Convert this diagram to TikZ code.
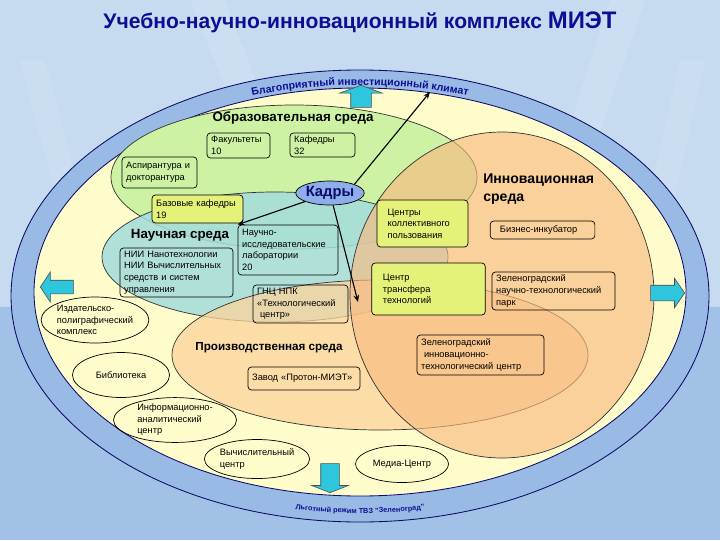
\documentclass[tikz,border=0pt]{standalone}
\usepackage{fontspec}
\setmainfont{Liberation Sans}
\usetikzlibrary{shapes.geometric,shapes.arrows,arrows.meta,decorations.text}

\definecolor{bgtop}{HTML}{C6DAF0}
\definecolor{bgbot}{HTML}{A2C1E7}
\definecolor{ringblue}{HTML}{99BAE5}
\definecolor{pale}{HTML}{FFFCCC}
\definecolor{edu}{HTML}{CDF2A3}
\definecolor{sci}{HTML}{A4DCDC}
\definecolor{prod}{HTML}{FCD39C}
\definecolor{innov}{HTML}{F8BA80}
\definecolor{lime}{HTML}{E4F27A}
\definecolor{arrowcyan}{HTML}{2EC6DC}
\definecolor{navy}{HTML}{0E0E94}
\definecolor{kadrblue}{HTML}{8EAEEA}

\tikzset{
  box/.style={draw, rounded corners=2.5pt, line width=0.5pt, align=left, inner xsep=3pt, inner ysep=1pt, font=\fontsize{6.6}{8.2}\selectfont},
  oval/.style={draw, ellipse, line width=0.5pt, align=left, inner sep=0pt, font=\fontsize{6.6}{8.2}\selectfont},
  zone/.style={font=\fontsize{9.5}{11}\selectfont\bfseries},
  fat/.style={single arrow, draw=black!70, fill=arrowcyan, line width=0.4pt, inner xsep=0pt},
  link/.style={-{Stealth[length=5pt,width=4pt]}, line width=0.8pt},
  rim/.style={draw=navy!70!black, line width=0.6pt},
  lens/.style={draw=black!80, line width=0.5pt},
}

\begin{document}
\begin{tikzpicture}[x=0.025cm, y=-0.025cm]
\fill[bgtop] (0,0) rectangle (720,540);
\fill[bgbot] (0,307) rectangle (720,540);
\fill[white, opacity=0.12] (190,0) -- (225,0) -- (320,250) -- (290,250) -- cycle;
\fill[white, opacity=0.1] (20,60) -- (45,60) -- (110,307) -- (85,307) -- cycle;
\fill[white, opacity=0.12] (610,0) -- (645,0) -- (560,250) -- (530,250) -- cycle;
\fill[white, opacity=0.1] (680,60) -- (705,60) -- (650,307) -- (625,307) -- cycle;

\node[font=\fontsize{15}{18}\selectfont\bfseries, text=navy] (title) at (360,22)
  {Учебно-научно-инновационный комплекс {\fontsize{17}{18}\selectfont МИЭТ}};

\filldraw[rim, fill=ringblue] (360,296) ellipse [x radius=349, y radius=226];
\filldraw[rim, fill=pale] (360,292) ellipse [x radius=326, y radius=204];
\filldraw[lens, fill=edu] (294,177) ellipse [x radius=183, y radius=72];
\filldraw[lens, fill=sci, fill opacity=0.85] (275,257) ellipse [x radius=173, y radius=65];
\filldraw[lens, fill=prod, fill opacity=0.75] (380,355) ellipse [x radius=208, y radius=75];
\filldraw[lens, fill=innov, fill opacity=0.65] (502,295) ellipse [x radius=152, y radius=163];

\path[decorate, decoration={text along path, text align=center,
  text={|\fontsize{7.5}{9}\selectfont\bfseries\color{navy}|Благоприятный инвестиционный климат}}]
  (166.1,122.8) arc [start angle=235, end angle=305, x radius=338, y radius=209];
\path[decorate, decoration={text along path, text align=center,
  text={|\fontsize{5.2}{6}\selectfont\bfseries\color{navy}|Льготный режим ТВЗ "Зеленоград"}}]
  (243.7,500.2) arc [start angle=110, end angle=70, x radius=340, y radius=217];

\node[zone] (obr) at (293,118) {Образовательная среда};
\node[zone] (nauch) at (180,235) {Научная среда};
\node[zone, font=\fontsize{8.3}{10}\selectfont\bfseries] (proizv) at (269,348) {Производственная среда};
\node[zone, font=\fontsize{10}{12.5}\selectfont\bfseries, anchor=north west, align=left, inner sep=0pt] (innovz) at (483,174) {Инновационная\\среда};

\node[box, text width=1.365cm, minimum height=0.625cm] (fak) at (238.5,145.5) {Факультеты\\10};
\node[box, text width=1.415cm, minimum height=0.6cm] (kaf) at (322.5,145) {Кафедры\\32};
\node[box, text width=1.665cm, minimum height=0.775cm] (asp) at (159.5,172.5) {Аспирантура~и\\докторантура};
\node[box, fill=lime, text width=2.065cm, minimum height=0.7cm] (baz) at (197.5,209) {Базовые кафедры\\19};
\node[box, text width=2.29cm, minimum height=1.25cm] (nil) at (288,250) {Научно-\\исследовательские\\лаборатории\\20};
\node[box, text width=2.615cm, minimum height=1.225cm] (nii) at (176.5,272.5) {НИИ Нанотехнологии\\НИИ Вычислительных\\средств и систем\\управления};
\node[box, text width=2.165cm, minimum height=0.95cm] (gnc) at (300.5,304) {ГНЦ НПК\\«Технологический\\\hspace*{2pt}центр»};
\node[box, fill=lime, inner xsep=7.5pt, text width=1.745cm, minimum height=1.175cm] (ckp) at (422.5,223.5) {Центры\\коллективного\\пользования};
\node[box, inner xsep=7pt, text width=2.125cm, minimum height=0.45cm] (biz) at (542.5,230) {Бизнес-инкубатор};
\node[box, fill=lime, inner xsep=8pt, text width=2.275cm, minimum height=1.3cm] (ctt) at (428.5,289) {Центр\\трансфера\\технологий};
\node[box, text width=2.865cm, minimum height=0.95cm] (ztp) at (553.5,291) {Зеленоградский\\научно-технологический\\парк};
\node[box, text width=2.965cm, minimum height=1cm] (zitc) at (480.5,355) {Зеленоградский\\\hspace*{2pt}инновационно-\\технологический центр};
\node[box, text width=2.59cm, minimum height=0.575cm] (zavod) at (304,378.5) {Завод «Протон-МИЭТ»};

\node[oval, minimum width=2.625cm, minimum height=1.15cm] (izd) at (95,320) {Издательско-\\полиграфический\\комплекс};
\node[oval, minimum width=2.425cm, minimum height=1.125cm] (bib) at (121,375) {Библиотека};
\node[oval, minimum width=3.075cm, minimum height=1.025cm] (inf) at (175,420) {Информационно-\\аналитический\\центр};
\node[oval, minimum width=2.325cm, minimum height=0.975cm] (vych) at (257,459) {Вычислительный\\центр};
\node[oval, minimum width=2.325cm, minimum height=0.925cm] (media) at (402,464) {Медиа-Центр};

\node[draw, ellipse, fill=kadrblue, line width=0.5pt, minimum width=1.575cm, minimum height=0.6cm, inner sep=0pt,
  font=\fontsize{10.5}{12}\selectfont\bfseries, text=navy!70!black] (kadry) at (330,193) {Кадры};

\node[fat, anchor=tip, rotate=90, minimum height=0.55cm, inner ysep=0.25cm,
  single arrow head extend=0.275cm, single arrow tip angle=140] (upar) at (361,85) {};
\node[fat, anchor=tip, rotate=-90, minimum height=0.725cm, inner ysep=0.225cm,
  single arrow head extend=0.225cm, single arrow tip angle=137] (dnar) at (330,493) {};
\node[fat, anchor=tip, shape border rotate=180, minimum height=0.825cm, inner ysep=0.1625cm,
  single arrow head extend=0.21cm, single arrow tip angle=113] (ltar) at (40,287) {};
\node[fat, anchor=tip, minimum height=0.85cm, inner ysep=0.1875cm,
  single arrow head extend=0.175cm, single arrow tip angle=111] (rtar) at (685,293) {};

\coordinate (clim) at (430,92);
\coordinate (prod) at (358,302);
\draw[link] (kadry.north east) -- (clim);
\draw[link] (kadry) -- (nil.north west);
\draw[link] (kadry) -- (prod);
\end{tikzpicture}
\end{document}
